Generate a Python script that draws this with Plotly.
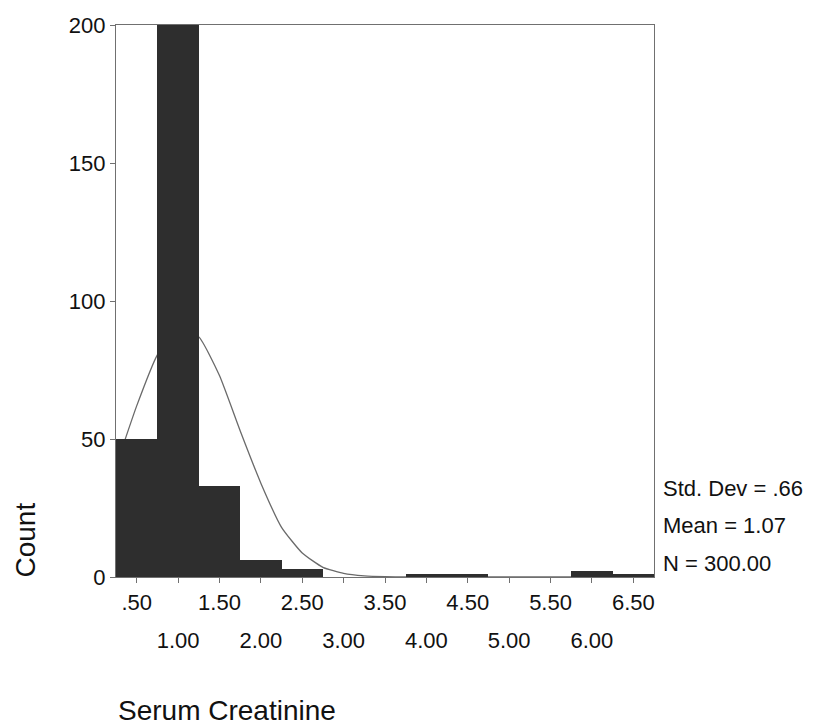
import plotly.graph_objects as go

# Histogram of Serum Creatinine (bins of width 0.5, centred on the tick values)
bin_centers = [0.5, 1.0, 1.5, 2.0, 2.5, 3.0, 3.5, 4.0, 4.5, 5.0, 5.5, 6.0, 6.5]
counts = [50, 200, 33, 6, 3, 0, 0, 1, 1, 0, 0, 2, 1]

# Fitted normal curve
curve_x = [0.25, 0.5, 0.75, 1.0, 1.25, 1.5, 1.75, 2.0, 2.25, 2.5, 2.75, 3.0,
           3.25, 3.5, 3.75, 4.0, 4.5, 5.0, 5.5, 6.0, 6.5, 6.75]
curve_y = [40, 62, 80.5, 90, 87, 73, 53, 34, 18, 8.7, 3.5, 1.3,
           0.4, 0.1, 0, 0, 0, 0, 0, 0, 0, 0]

# Staggered tick labels
tick_row1_vals = [0.5, 1.5, 2.5, 3.5, 4.5, 5.5, 6.5]
tick_row1_text = [".50", "1.50", "2.50", "3.50", "4.50", "5.50", "6.50"]
tick_row2_vals = [1.0, 2.0, 3.0, 4.0, 5.0, 6.0]
tick_row2_text = ["1.00", "2.00", "3.00", "4.00", "5.00", "6.00"]
y_ticks = [0, 50, 100, 150, 200]

stats_lines = ["Std. Dev = .66", "Mean = 1.07", "N = 300.00"]

FONT = "Liberation Sans, Arial, sans-serif"
AX = "#707070"

fig = go.Figure()

# curve on the main subplot (drawn beneath the bars)
fig.add_trace(go.Scatter(
    x=curve_x, y=curve_y, mode="lines",
    line=dict(color="#6a6a6a", width=1.3, shape="spline", smoothing=0.5),
    xaxis="x", yaxis="y", hoverinfo="skip", showlegend=False,
))

# bars on the overlaying subplot (drawn on top of the curve)
fig.add_trace(go.Bar(
    x=bin_centers, y=counts, width=0.5,
    marker=dict(color="#2e2e2e", line=dict(width=0)),
    xaxis="x2", yaxis="y2", showlegend=False,
))

all_ticks = sorted(tick_row1_vals + tick_row2_vals)
all_text = [tick_row1_text[tick_row1_vals.index(v)] if v in tick_row1_vals else "" for v in all_ticks]

fig.update_layout(
    width=816, height=728,
    margin=dict(l=108, r=170, t=17, b=159, autoexpand=False),
    paper_bgcolor="white", plot_bgcolor="white",
    font=dict(family=FONT, size=22, color="#111111"),
    bargap=0,
    xaxis=dict(
        range=[0.25, 6.75], tickvals=all_ticks, ticktext=all_text,
        ticks="outside", ticklen=5, tickcolor=AX, tickwidth=1,
        showline=True, linecolor=AX, linewidth=1.2, mirror=True,
        showgrid=False, zeroline=False, ticklabelstandoff=0,
        tickfont=dict(size=22),
    ),
    xaxis2=dict(
        overlaying="x", side="bottom", range=[0.25, 6.75],
        tickvals=tick_row2_vals, ticktext=tick_row2_text,
        ticks="", showline=False, showgrid=False, zeroline=False,
        ticklabelstandoff=48, tickfont=dict(size=22),
    ),
    yaxis=dict(
        range=[0, 200], tickvals=y_ticks,
        ticks="outside", ticklen=5, tickcolor=AX,
        showline=True, linecolor=AX, linewidth=1.2, mirror=True,
        showgrid=False, zeroline=False, tickfont=dict(size=22),
    ),
    yaxis2=dict(overlaying="y", range=[0, 200], visible=False),
)

# axis titles placed as in the original
fig.add_annotation(text="Count", textangle=-90, font=dict(size=28),
                   xref="paper", yref="paper", x=-0.17, y=0.067,
                   xanchor="center", yanchor="middle", showarrow=False)
fig.add_annotation(text="Serum Creatinine", font=dict(size=28),
                   xref="paper", yref="paper", x=0.0, y=-0.241,
                   xanchor="left", yanchor="middle", showarrow=False)

stats_y = [0.161, 0.094, 0.025]
for txt, yy in zip(stats_lines, stats_y):
    fig.add_annotation(text=txt, font=dict(size=22),
                       xref="paper", yref="paper", x=1.0, y=yy, xshift=7,
                       xanchor="left", yanchor="middle", showarrow=False)

fig.write_html("out.html")
